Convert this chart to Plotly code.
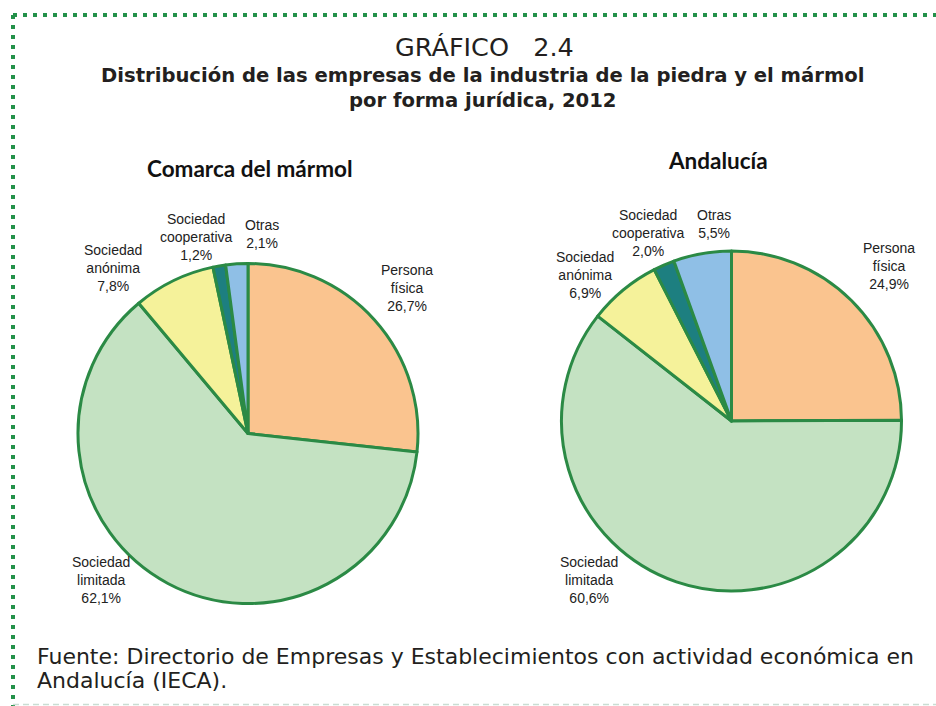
import plotly.graph_objects as go

W, H = 936, 706

categorias = ["Persona física", "Sociedad limitada", "Sociedad anónima", "Sociedad cooperativa", "Otras"]
etiquetas = ["Persona<br>física", "Sociedad<br>limitada", "Sociedad<br>anónima", "Sociedad<br>cooperativa", "Otras"]
comarca = [26.7, 62.1, 7.8, 1.2, 2.1]
andalucia = [24.9, 60.6, 6.9, 2.0, 5.5]
colores = ["#FAC48F", "#C4E2C2", "#F5F29A", "#1D7F80", "#8FBFE6"]
borde = "#2B8A45"

def px_dom(x0, x1, y0, y1):
    return dict(x=[x0 / W, x1 / W], y=[1 - y1 / H, 1 - y0 / H])

fig = go.Figure()
fig.add_trace(go.Pie(labels=categorias, values=comarca, sort=False, direction="clockwise",
                     rotation=0, textinfo="none", hoverinfo="label+percent",
                     marker=dict(colors=colores, line=dict(color=borde, width=3)),
                     domain=px_dom(78, 418, 263, 604), showlegend=False))
fig.add_trace(go.Pie(labels=categorias, values=andalucia, sort=False, direction="clockwise",
                     rotation=0, textinfo="none", hoverinfo="label+percent",
                     marker=dict(colors=colores, line=dict(color=borde, width=3)),
                     domain=px_dom(561, 902, 251, 591), showlegend=False))

def fmt(v):
    return f"{v:.1f}".replace(".", ",") + "%"

# label anchor positions (pixels, top of text block)
pos1 = [(407, 260), (101, 552), (113, 240), (196, 209), (262, 215)]
pos2 = [(889, 238), (589, 552), (585, 247), (648, 205), (714, 205)]

ann = []
lbl_font = dict(family="Liberation Sans, Arial", size=14, color="#222222")
for vals, poss in ((comarca, pos1), (andalucia, pos2)):
    for lab, v, (x, y) in zip(etiquetas, vals, poss):
        ann.append(dict(text=f"{lab}<br>{fmt(v)}", x=x / W, y=1 - y / H, xref="paper", yref="paper",
                        xanchor="center", yanchor="top", showarrow=False, font=lbl_font, align="center"))

txt = "#231F20"

def add_text(text, x, y, font, xanchor="center"):
    ann.append(dict(text=text, x=x / W, y=1 - y / H, xref="paper", yref="paper",
                    xanchor=xanchor, yanchor="middle", showarrow=False, font=font, align="left"))

add_text("GRÁFICO&nbsp;&nbsp;&nbsp;2.4", 484, 47, dict(family="DejaVu Sans", size=25.5, color=txt))
add_text("<b>Distribución de las empresas de la industria de la piedra y el mármol</b>", 483, 75,
         dict(family="DejaVu Sans", size=19.6, color=txt))
add_text("<b>por forma jurídica, 2012</b>", 483, 100, dict(family="DejaVu Sans", size=19.6, color=txt))
add_text("<b>Comarca del mármol</b>", 250, 168, dict(family="Lato, Open Sans", size=22.5, color="#111111"))
add_text("<b>Andalucía</b>", 718, 160, dict(family="Lato, Open Sans", size=22.5, color="#111111"))
foot = dict(family="DejaVu Sans", size=22, color=txt)
add_text("Fuente: Directorio de Empresas y Establecimientos con actividad económica en", 35, 656, foot, "left")
add_text("Andalucía (IECA).", 35, 680, foot, "left")

shapes = [
    dict(type="line", xref="paper", yref="paper", x0=13 / W, x1=1, y0=1 - 15 / H, y1=1 - 15 / H,
         line=dict(color="#23914A", width=4, dash="4px,6px")),
    dict(type="line", xref="paper", yref="paper", x0=13 / W, x1=13 / W, y0=1 - 15 / H, y1=0,
         line=dict(color="#23914A", width=4, dash="4px,6px")),
    dict(type="line", xref="paper", yref="paper", x0=13 / W, x1=1, y0=1 - 704.5 / H, y1=1 - 704.5 / H,
         line=dict(color="#C9DDD3", width=1.5, dash="6px,4px")),
]

fig.update_layout(width=W, height=H, margin=dict(l=0, r=0, t=0, b=0),
                  paper_bgcolor="white", plot_bgcolor="white",
                  annotations=ann, shapes=shapes)
fig.write_html("out.html", config={"displayModeBar": False},
               post_script="document.body.style.margin='0px';")
